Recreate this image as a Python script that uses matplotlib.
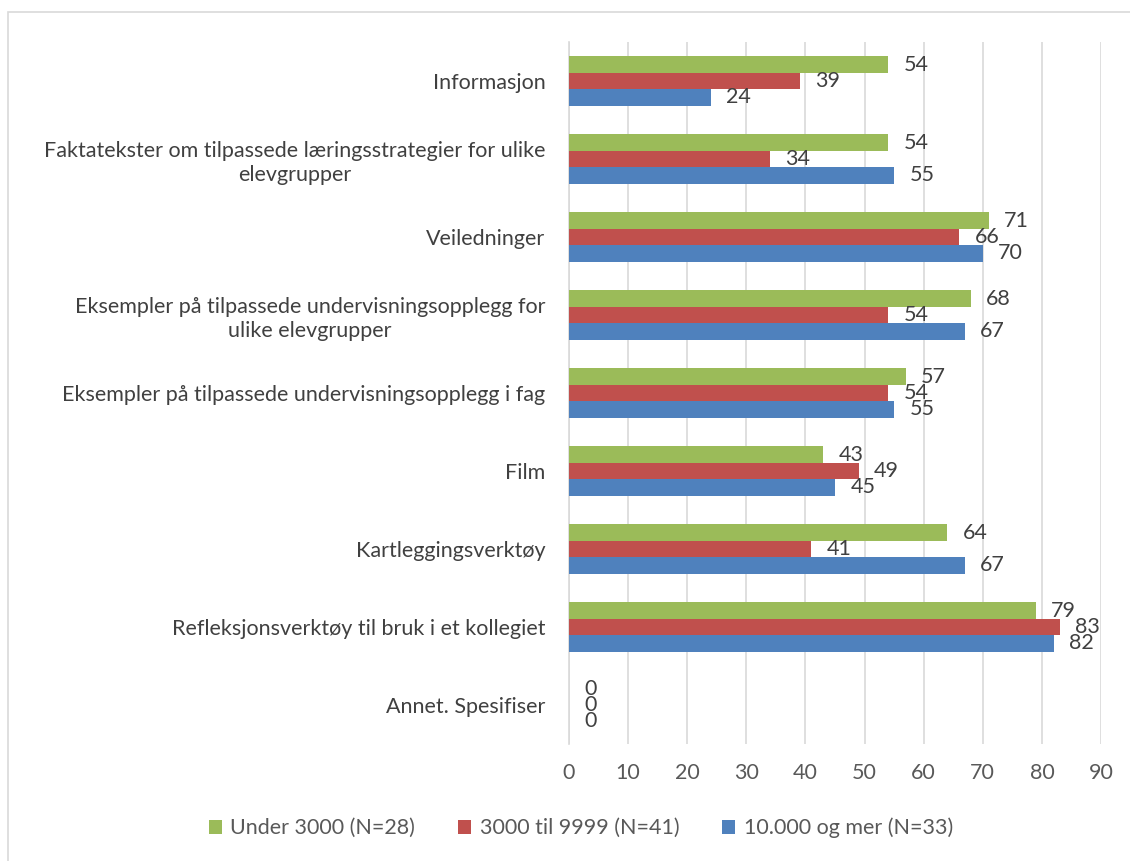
import matplotlib.pyplot as plt
import numpy as np
from matplotlib.patches import Rectangle

categories = [
    'Informasjon',
    'Faktatekster om tilpassede læringsstrategier for ulike\nelevgrupper',
    'Veiledninger',
    'Eksempler på tilpassede undervisningsopplegg for\nulike elevgrupper',
    'Eksempler på tilpassede undervisningsopplegg i fag',
    'Film',
    'Kartleggingsverktøy',
    'Refleksjonsverktøy til bruk i et kollegiet',
    'Annet. Spesifiser',
]
under_3000 = [54, 54, 71, 68, 57, 43, 64, 79, 0]
mid_3000_9999 = [39, 34, 66, 54, 54, 49, 41, 83, 0]
over_10000 = [24, 55, 70, 67, 55, 45, 67, 82, 0]

series_names = ['Under 3000 (N=28)', '3000 til 9999 (N=41)', '10.000 og mer (N=33)']
colors = ['#9BBB59', '#C0504D', '#4F81BD']
x_ticks = list(range(0, 100, 10))

plt.rcParams['font.family'] = ['Lato', 'DejaVu Sans']

fig = plt.figure(figsize=(11.3, 8.61), dpi=100)
ax = fig.add_axes([569 / 1130, 1 - 744 / 861, 532 / 1130, 702 / 861])

y = np.arange(len(categories))
h = 0.21
all_series = [under_3000, mid_3000_9999, over_10000]
for i, (vals, col, name) in enumerate(zip(all_series, colors, series_names)):
    pos = y + (i - 1) * h
    ax.barh(pos, vals, height=h, color=col, label=name, zorder=3)
    for yy, v in zip(pos, vals):
        ax.annotate(str(v), (v, yy), xytext=(11, 0), textcoords='offset points',
                    va='center', ha='left', fontsize=15.5, color='#404040')

ax.set_ylim(len(categories) - 0.5, -0.5)
ax.set_xlim(0, 90)
ax.set_xticks(x_ticks)
ax.set_yticks(y)
ax.set_yticklabels(categories, fontsize=15.5, color='#404040', ha='right',
                   multialignment='center', linespacing=1.25)
ax.tick_params(axis='y', length=0, pad=17)
ax.tick_params(axis='x', length=0, pad=14, labelsize=15.5, labelcolor='#595959')
ax.grid(axis='x', color='#D9D9D9', linewidth=1.2, zorder=0)
for s in ['top', 'right', 'bottom']:
    ax.spines[s].set_visible(False)
ax.spines['left'].set_color('#D9D9D9')
ax.spines['left'].set_linewidth(1.2)

leg = fig.legend(loc='center', bbox_to_anchor=(581 / 1130, 1 - 828 / 861), ncol=3,
                 frameon=False, fontsize=15.5, handlelength=0.6, handleheight=0.6,
                 handletextpad=0.4, columnspacing=2.0)
for t in leg.get_texts():
    t.set_color('#595959')

fig.patches.append(Rectangle((8 / 1130, -0.1), 1.2, 1.1 - 12 / 861,
                             transform=fig.transFigure, fill=False,
                             edgecolor='#D9D9D9', linewidth=1.2))

fig.savefig('out.png', dpi=100)
